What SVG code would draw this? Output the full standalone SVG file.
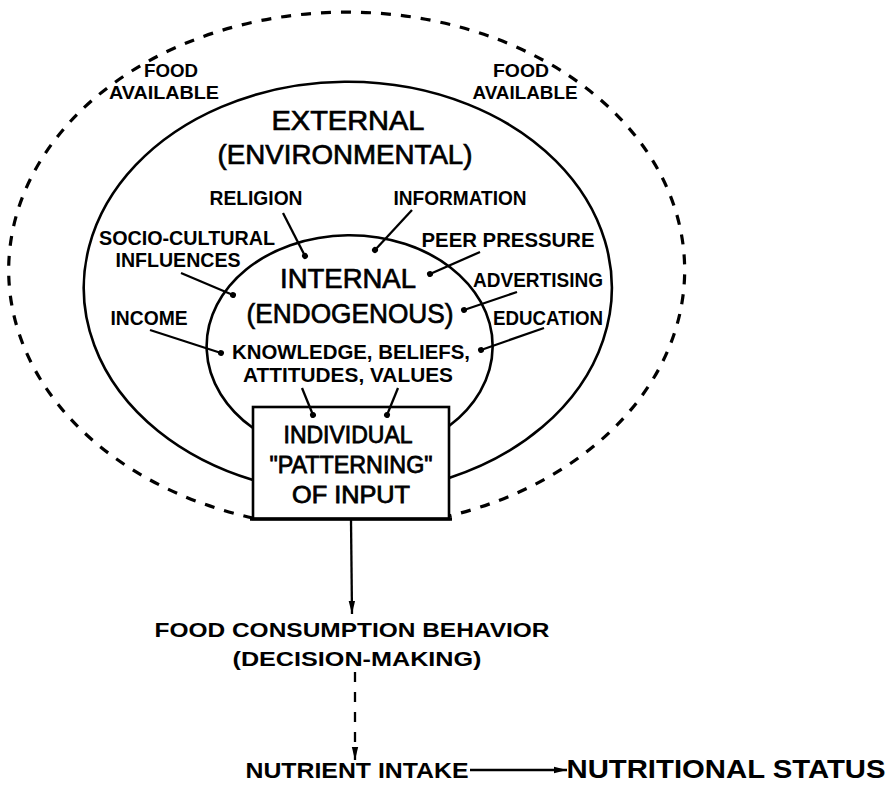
<svg xmlns="http://www.w3.org/2000/svg" width="888" height="790" viewBox="0 0 888 790">
<style>
text{font-family:"Liberation Sans",Arial,sans-serif;fill:#000;text-anchor:middle}
.b{font-weight:bold}
.s{font-size:20px;font-weight:bold}
.f{font-size:19px;font-weight:bold}
.big{font-size:28px;stroke:#000;stroke-width:0.7}
.bx{font-size:24px;stroke:#000;stroke-width:0.8}
.ring{fill:none;stroke:#000;stroke-width:2.6}
.dash{fill:none;stroke:#000;stroke-width:3.2;stroke-dasharray:10 10}
.con{fill:none;stroke:#000;stroke-width:2.3}
</style>
<defs>
<marker id="dot" markerUnits="userSpaceOnUse" markerWidth="8" markerHeight="8" refX="4" refY="4" orient="auto">
<circle cx="4" cy="4" r="3" fill="#000"/>
</marker>
<marker id="arr" markerUnits="userSpaceOnUse" markerWidth="14" markerHeight="10" refX="13" refY="5" orient="auto">
<path d="M0,1.8 L13,5 L0,8.2 Z" fill="#000"/>
</marker>
</defs>

<g id="food-available-ring">
<path class="dash" d="M 253 518 A 338 258 0 1 1 449 516"/>
<text class="f" x="171" y="77" textLength="54" lengthAdjust="spacingAndGlyphs">FOOD</text>
<text class="f" x="164" y="99" textLength="110" lengthAdjust="spacingAndGlyphs">AVAILABLE</text>
<text class="f" x="521" y="77" textLength="56" lengthAdjust="spacingAndGlyphs">FOOD</text>
<text class="f" x="525" y="99" textLength="105" lengthAdjust="spacingAndGlyphs">AVAILABLE</text>
</g>

<g id="external-ring">
<path class="ring" d="M 253 480 A 264 206 0 1 1 449 478"/>
<text class="big" x="348" y="130" textLength="153" lengthAdjust="spacingAndGlyphs">EXTERNAL</text>
<text class="big" x="345" y="164" textLength="255" lengthAdjust="spacingAndGlyphs">(ENVIRONMENTAL)</text>
</g>

<g id="religion"><text class="s" x="256" y="205" textLength="93" lengthAdjust="spacingAndGlyphs">RELIGION</text></g>
<g id="information"><text class="s" x="460" y="205" textLength="133" lengthAdjust="spacingAndGlyphs">INFORMATION</text></g>
<g id="socio-cultural">
<text class="s" x="187" y="245" textLength="176" lengthAdjust="spacingAndGlyphs">SOCIO-CULTURAL</text>
<text class="s" x="178" y="267" textLength="125" lengthAdjust="spacingAndGlyphs">INFLUENCES</text>
</g>
<g id="peer-pressure"><text class="s" x="508" y="247" textLength="173" lengthAdjust="spacingAndGlyphs">PEER PRESSURE</text></g>
<g id="advertising"><text class="s" x="538" y="287" textLength="130" lengthAdjust="spacingAndGlyphs">ADVERTISING</text></g>
<g id="income"><text class="s" x="149" y="325" textLength="77" lengthAdjust="spacingAndGlyphs">INCOME</text></g>
<g id="education"><text class="s" x="548" y="325" textLength="110" lengthAdjust="spacingAndGlyphs">EDUCATION</text></g>

<g id="internal-ring">
<path class="ring" d="M 253 428 A 143 111 0 1 1 449 426"/>
<text class="big" x="348" y="288" textLength="136" lengthAdjust="spacingAndGlyphs">INTERNAL</text>
<text class="big" x="350" y="323" textLength="207" lengthAdjust="spacingAndGlyphs">(ENDOGENOUS)</text>
<text class="b" style="font-size:21px" x="351" y="359" textLength="238" lengthAdjust="spacingAndGlyphs">KNOWLEDGE, BELIEFS,</text>
<text class="b" style="font-size:21px" x="348" y="382" textLength="210" lengthAdjust="spacingAndGlyphs">ATTITUDES, VALUES</text>
</g>

<g id="patterning-box">
<rect x="253" y="407" width="196" height="112" fill="#fff" stroke="#000" stroke-width="2.6"/>
<line x1="250" y1="519" x2="452" y2="519" stroke="#000" stroke-width="3.5"/>
<text class="bx" x="348" y="443" textLength="129" lengthAdjust="spacingAndGlyphs">INDIVIDUAL</text>
<text class="bx" x="351" y="473" textLength="163" lengthAdjust="spacingAndGlyphs">"PATTERNING"</text>
<text class="bx" x="351" y="503" textLength="118" lengthAdjust="spacingAndGlyphs">OF INPUT</text>
</g>

<g id="food-consumption">
<text class="s" x="352" y="637" textLength="395" lengthAdjust="spacingAndGlyphs">FOOD CONSUMPTION BEHAVIOR</text>
<text class="s" x="357" y="666" textLength="249" lengthAdjust="spacingAndGlyphs">(DECISION-MAKING)</text>
</g>
<g id="nutrient-intake"><text class="b" style="font-size:22px" x="357" y="778" textLength="223" lengthAdjust="spacingAndGlyphs">NUTRIENT INTAKE</text></g>
<g id="nutritional-status"><text class="b" style="font-size:26px" x="726" y="778" textLength="319" lengthAdjust="spacingAndGlyphs">NUTRITIONAL STATUS</text></g>

<g id="connectors">
<line class="con" x1="283" y1="213" x2="305" y2="256" marker-end="url(#dot)"/>
<line class="con" x1="412" y1="210" x2="375" y2="250" marker-end="url(#dot)"/>
<line class="con" x1="181" y1="273" x2="233" y2="295" marker-end="url(#dot)"/>
<line class="con" x1="480" y1="252" x2="430" y2="274" marker-end="url(#dot)"/>
<line class="con" x1="517" y1="292" x2="464" y2="310" marker-end="url(#dot)"/>
<line class="con" x1="150" y1="330" x2="221" y2="353" marker-end="url(#dot)"/>
<line class="con" x1="544" y1="328" x2="481" y2="350" marker-end="url(#dot)"/>
<line class="con" x1="302" y1="388" x2="313" y2="415" marker-end="url(#dot)"/>
<line class="con" x1="398" y1="388" x2="387" y2="415" marker-end="url(#dot)"/>
<line class="con" x1="351" y1="520" x2="352" y2="614" marker-end="url(#arr)"/>
<line class="con" x1="355" y1="672" x2="355" y2="760" stroke-dasharray="10 10" marker-end="url(#arr)"/>
<line class="con" x1="470" y1="770" x2="567" y2="770" stroke-width="2.6" marker-end="url(#arr)"/>
</g>
</svg>
